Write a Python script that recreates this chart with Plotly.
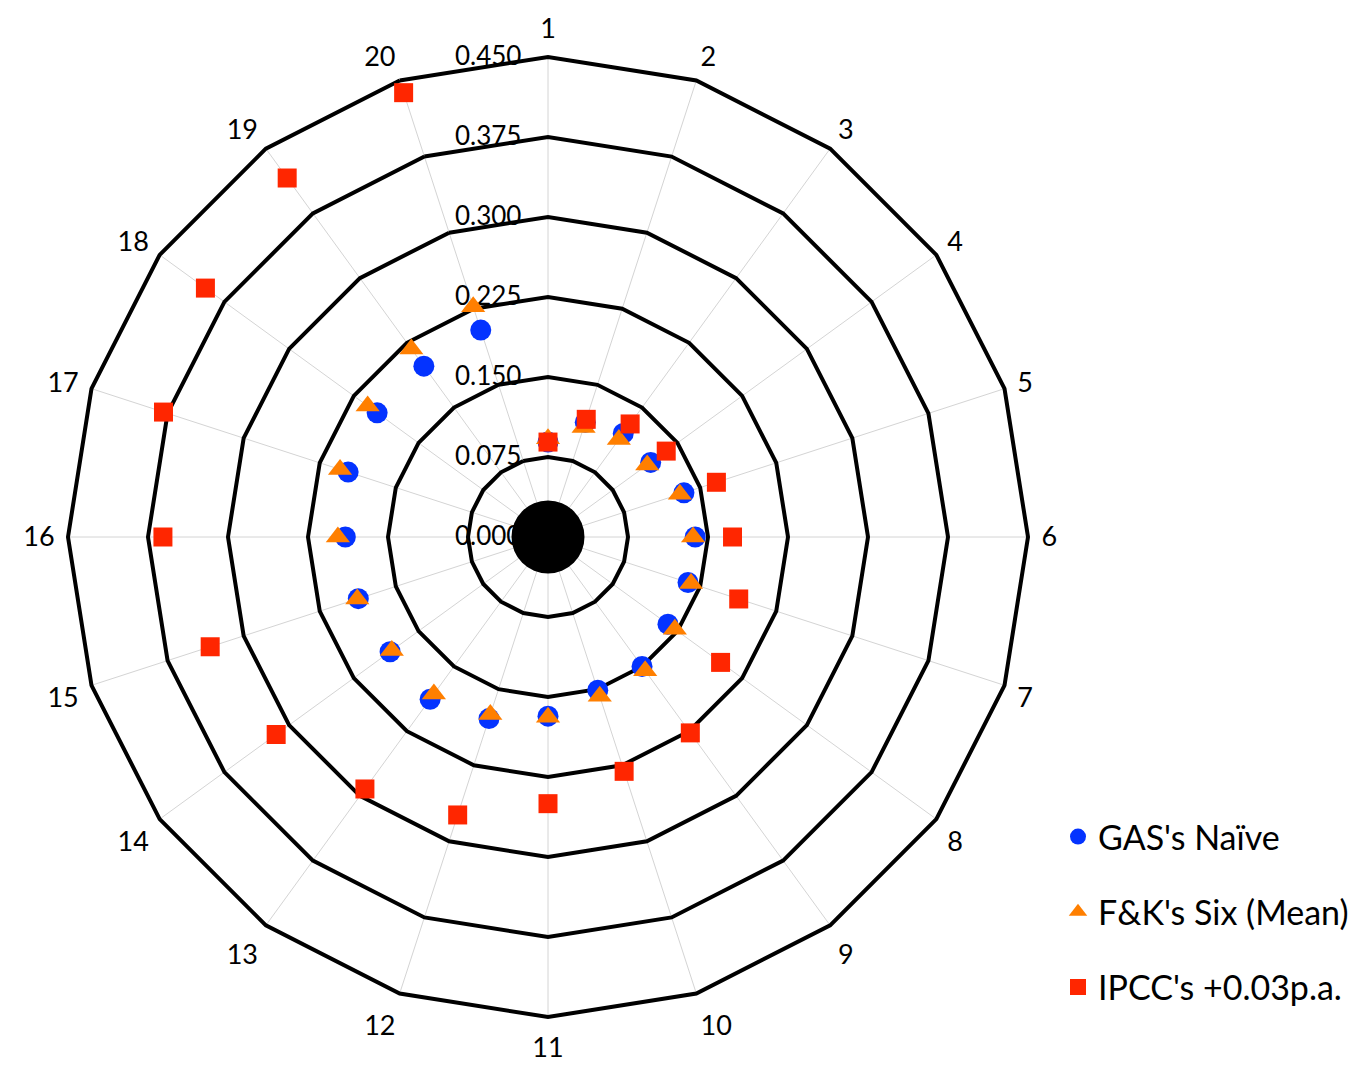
import plotly.graph_objects as go

# Twenty forecast horizons around the web
categories = [str(i) for i in range(1, 21)]

gas_naive = [0.089, 0.113, 0.120, 0.119, 0.134, 0.138, 0.138, 0.139, 0.150, 0.151,
             0.168, 0.179, 0.188, 0.183, 0.187, 0.190, 0.197, 0.198, 0.198, 0.204]
fk_six_mean = [0.092, 0.108, 0.113, 0.115, 0.130, 0.136, 0.141, 0.147, 0.155, 0.157,
               0.169, 0.175, 0.182, 0.181, 0.188, 0.197, 0.205, 0.209, 0.218, 0.227]
ipcc_trend = [0.089, 0.116, 0.131, 0.137, 0.166, 0.173, 0.188, 0.200, 0.227, 0.231,
              0.250, 0.274, 0.292, 0.315, 0.333, 0.361, 0.379, 0.397, 0.416, 0.438]

radial_ticks = [0.0, 0.075, 0.150, 0.225, 0.300, 0.375, 0.450]

FONT = "Lato"
W, H = 1365, 1072
CX, CY, R = 548, 537, 480  # pixel centre and outer radius of the web
HUB = 36.5                 # radius of the solid hub, px

fig = go.Figure()

series = [
    ("GAS's Naïve", gas_naive, "circle", 21, "#0433FF", "g1"),
    ("F&K's Six (Mean)", fk_six_mean, "triangle-up", 21, "#FF7F00", "g2"),
    ("IPCC's +0.03p.a.", ipcc_trend, "square", 19, "#FF2600", "g3"),
]
for name, vals, sym, size, color, grp in series:
    fig.add_trace(go.Scatterpolar(
        r=vals, theta=categories, mode="markers", name=name,
        legendgroup=grp,
        marker=dict(symbol=sym, size=size, color=color, line=dict(width=0)),
    ))

# solid hub at the centre of the web
fig.add_shape(
    type="circle", xref="paper", yref="paper",
    x0=(CX - HUB) / W, x1=(CX + HUB) / W,
    y0=(H - CY - HUB) / H, y1=(H - CY + HUB) / H,
    fillcolor="black", line=dict(width=0), layer="above",
)

fig.update_layout(
    width=W, height=H,
    margin=dict(l=0, r=0, t=0, b=0),
    paper_bgcolor="white",
    font=dict(family=FONT, color="black"),
    polar=dict(
        domain=dict(x=[(CX - R) / W, (CX + R) / W],
                    y=[(H - CY - R) / H, (H - CY + R) / H]),
        bgcolor="white",
        gridshape="linear",
        radialaxis=dict(
            range=[0, 0.45],
            tickvals=radial_ticks,
            tickformat=".3f",
            angle=90,
            tickangle=90,
            side="counterclockwise",
            showline=False,
            ticks="outside",
            ticklen=17,
            tickcolor="rgba(0,0,0,0)",
            gridcolor="black",
            gridwidth=4,
            tickfont=dict(size=26, family=FONT, color="black"),
            layer="below traces",
        ),
        angularaxis=dict(
            type="category",
            categoryarray=categories,
            direction="clockwise",
            rotation=90,
            showline=True,
            linecolor="black",
            linewidth=4,
            gridcolor="#d4d4d4",
            gridwidth=1,
            ticks="outside",
            ticklen=6,
            tickcolor="rgba(0,0,0,0)",
            tickfont=dict(size=27, family=FONT, color="black"),
            layer="below traces",
        ),
    ),
    legend=dict(
        x=1058 / W, xanchor="left",
        y=1 - 808 / H, yanchor="top",
        font=dict(size=34, family=FONT, color="black"),
        tracegroupgap=28,
        traceorder="grouped",
        bgcolor="rgba(0,0,0,0)",
    ),
)

fig.write_html("out.html")
